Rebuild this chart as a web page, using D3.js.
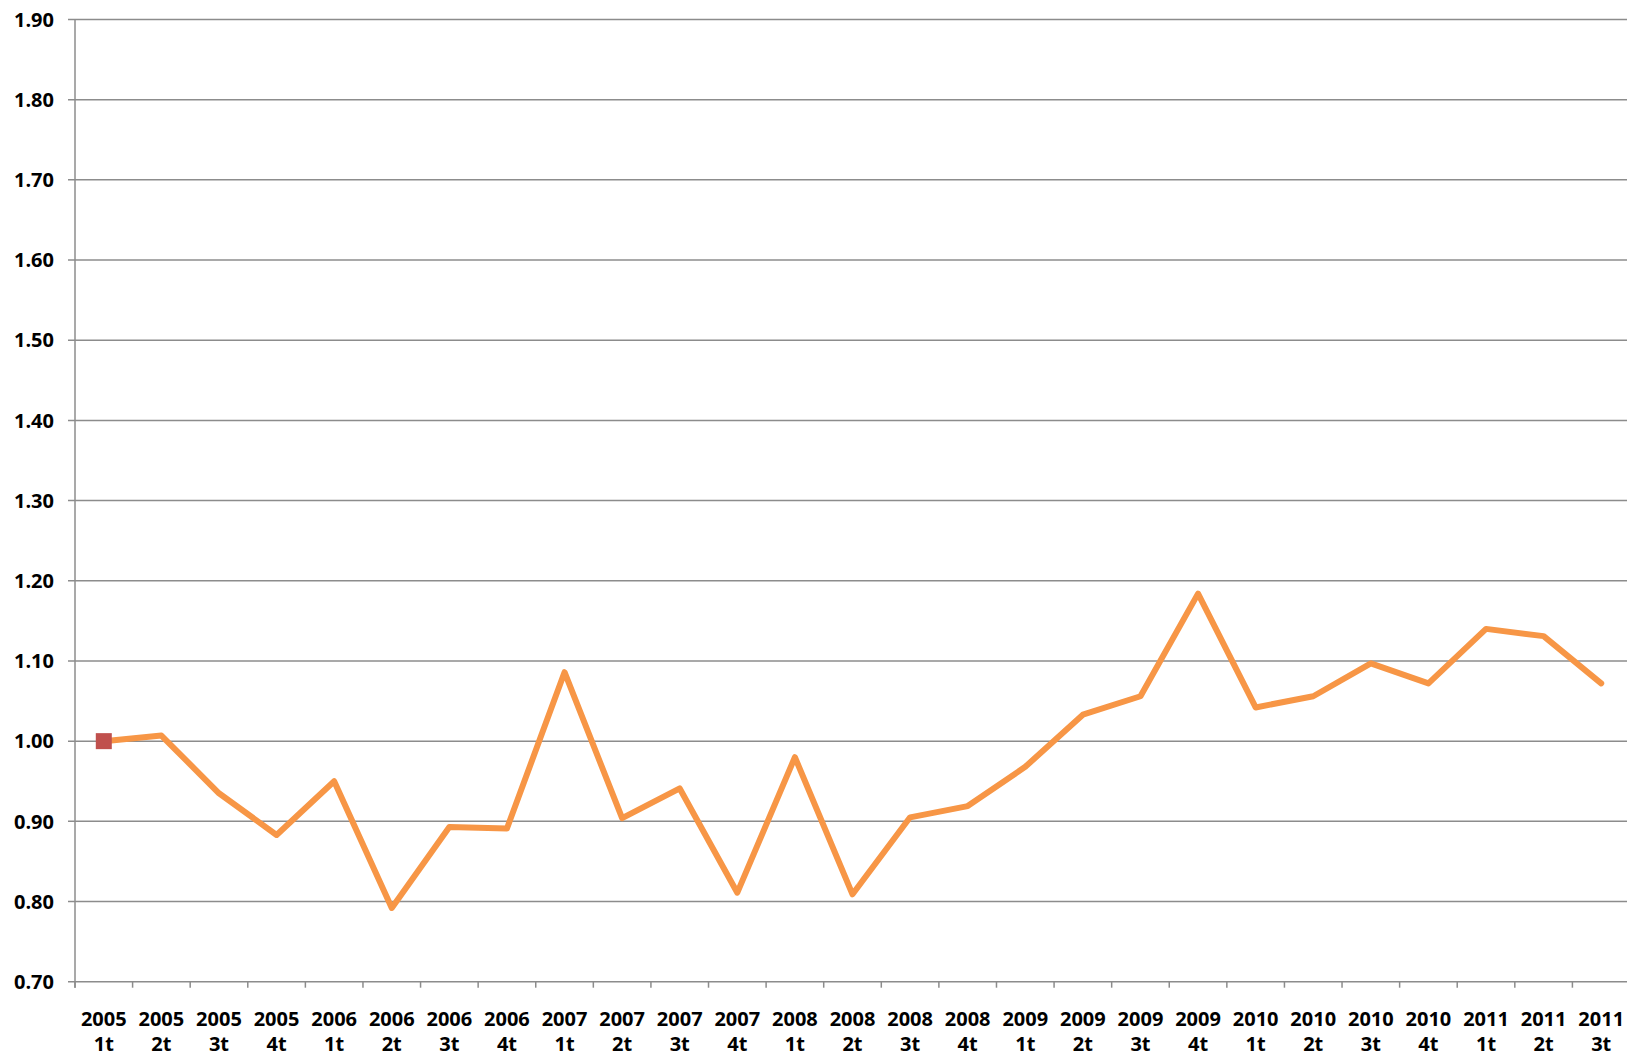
<!DOCTYPE html>
<html><head><meta charset="utf-8">
<script src="https://cdn.jsdelivr.net/npm/d3@7/dist/d3.min.js"></script>
<style>body{margin:0;background:#fff;}svg{display:block;}</style>
</head><body>
<svg id="chart" width="1627" height="1057"></svg>
<script>
const years = ["2005","2005","2005","2005","2006","2006","2006","2006","2007","2007","2007","2007","2008","2008","2008","2008","2009","2009","2009","2009","2010","2010","2010","2010","2011","2011","2011"];
const quarters = ["1t","2t","3t","4t","1t","2t","3t","4t","1t","2t","3t","4t","1t","2t","3t","4t","1t","2t","3t","4t","1t","2t","3t","4t","1t","2t","3t"];
const values = [1.000,1.007,0.935,0.883,0.950,0.792,0.893,0.891,1.086,0.904,0.941,0.811,0.980,0.809,0.905,0.919,0.968,1.033,1.056,1.184,1.042,1.056,1.097,1.072,1.140,1.131,1.072];
const yTicks = [0.70,0.80,0.90,1.00,1.10,1.20,1.30,1.40,1.50,1.60,1.70,1.80,1.90];
const markerIndex = [0];

(function(){
const svg = d3.select("#chart");
const mLeft = 75, mRight = 1630, mTop = 19.5, mBottom = 981.7;
const ids = years.map((y,i)=>i);
const x = d3.scaleBand().domain(ids).range([mLeft,mRight]).paddingInner(0).paddingOuter(0);
const y = d3.scaleLinear().domain([0.7,1.9]).range([mBottom,mTop]);
const gridColor = "#8c8c8c";
const font = "'Open Sans', 'DejaVu Sans', sans-serif";

svg.append("g").selectAll("line").data(yTicks).join("line")
  .attr("x1", mLeft-7).attr("x2", 1627)
  .attr("y1", d=>y(d)).attr("y2", d=>y(d))
  .attr("stroke", gridColor).attr("stroke-width", 1.5);

svg.append("g").selectAll("text").data(yTicks).join("text")
  .attr("x", 54).attr("y", d=>y(d)).attr("dy","0.36em")
  .attr("text-anchor","end")
  .attr("font-family", font).attr("font-weight","700").attr("font-size","20px")
  .attr("fill","#000")
  .text(d=>d.toFixed(2));

svg.append("line").attr("x1",mLeft).attr("x2",mLeft).attr("y1",mTop).attr("y2",mBottom+6)
  .attr("stroke",gridColor).attr("stroke-width",1.5);

const edges = ids.map(i=>x(i)).concat([mRight]);
svg.append("g").selectAll("line").data(edges).join("line")
  .attr("x1",d=>d).attr("x2",d=>d).attr("y1",mBottom).attr("y2",mBottom+6)
  .attr("stroke",gridColor).attr("stroke-width",1.5);

const cx = i=>x(i)+x.bandwidth()/2;
const xl = svg.append("g").selectAll("text").data(ids).join("text")
  .attr("x", cx)
  .attr("text-anchor","middle")
  .attr("font-family", font).attr("font-weight","700").attr("font-size","20px")
  .attr("fill","#000");
xl.append("tspan").attr("x", cx).attr("y",1026).text(i=>years[i]);
xl.append("tspan").attr("x", cx).attr("y",1051).text(i=>quarters[i]);

const line = d3.line().x((d,i)=>cx(i)).y(d=>y(d));
svg.append("path").datum(values).attr("d",line)
  .attr("fill","none").attr("stroke","#f79646").attr("stroke-width",6)
  .attr("stroke-linejoin","round").attr("stroke-linecap","round");

svg.append("g").selectAll("rect").data(markerIndex).join("rect")
  .attr("x", i=>cx(i)-8).attr("y", i=>y(values[i])-8)
  .attr("width",16).attr("height",16)
  .attr("fill","#c0504d");
})();
</script>
</body></html>
